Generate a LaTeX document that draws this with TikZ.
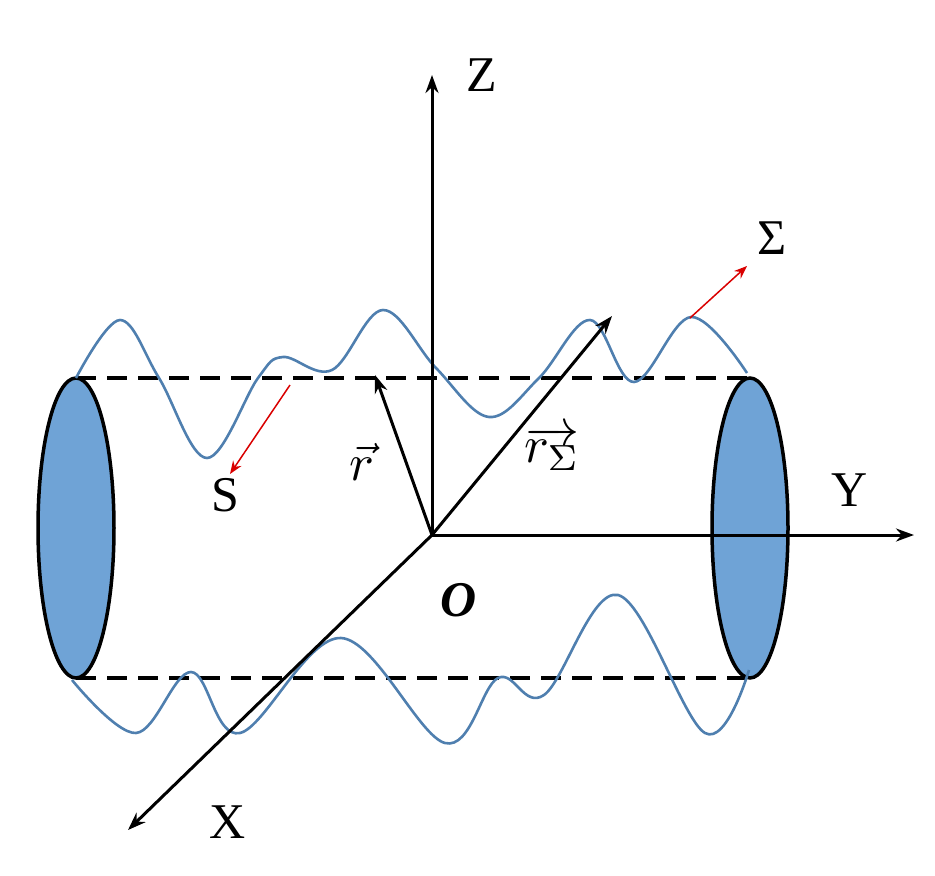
\documentclass[tikz,border=0pt]{standalone}
\usepackage{fontspec}
\usepackage{graphicx}
\setmainfont{Liberation Serif}
\usetikzlibrary{arrows.meta}
\definecolor{wave}{HTML}{4F7FAF}
\definecolor{cap}{HTML}{6FA3D6}
\begin{document}
\begin{tikzpicture}[x=1pt,y=-1pt,
  ax/.style={line width=3pt,-{Stealth[length=18pt,width=13pt]}},
  red/.style={draw=red!85!black,line width=1.5pt,-{Stealth[length=13pt,width=10pt]}},
  wv/.style={draw=wave,line width=2.6pt},
  lab/.style={font=\fontsize{50}{52}\selectfont}]
\useasboundingbox (0,0) rectangle (935,876);
% dashed lines
\draw[line width=3.5pt,dash pattern=on 20pt off 11pt] (76,378) -- (750,378);
\draw[line width=3.5pt,dash pattern=on 20pt off 11pt] (76,678) -- (750,678);
% caps
\draw[fill=cap,line width=3.5pt] (76,528) ellipse [x radius=38,y radius=150];
\draw[fill=cap,line width=3.5pt] (750,528) ellipse [x radius=38,y radius=150];
% waves
\draw[wv] plot[smooth,tension=0.6] coordinates {(76,378) (120,320) (159,378) (207,458) (258,378) (283,357) (332,370) (383,310) (436,368) (489,417) (539,378) (590,320) (634,382) (691,317) (747,373)};
\draw[wv] plot[smooth,tension=0.6] coordinates {(72,680) (136,733) (191,672) (240,733) (341,638) (445,743) (498,678) (544,695) (618,595) (705,733) (749,670)};
% axes
\coordinate (O) at (432,535);
\coordinate (Zt) at (432,75);
\coordinate (Yt) at (914,535);
\coordinate (Xt) at (128,830);
\draw[ax] (O) -- (Zt);
\draw[ax] (O) -- (Yt);
\draw[ax] (O) -- (Xt);
\coordinate (rt) at (375,375);
\coordinate (rst) at (612,316);
\draw[ax] (O) -- (rt);
\draw[ax] (O) -- (rst);
% red arrows
\coordinate (s1) at (290,385); \coordinate (s2) at (230,474);
\draw[red] (s1) -- (s2);
\coordinate (g1) at (690,318); \coordinate (g2) at (747,266);
\draw[red] (g1) -- (g2);
% labels
\node[lab] (lz) at (482,75) {Z};
\node[lab] (ly) at (850,490) {Y};
\node[lab] (lx) at (228,822) {X};
\node[lab] (ls) at (225,495) {S};
\node[lab] (lsig) at (772,238) {\char"03A3};
\node[lab] (lo) at (459,600) {\textbf{\textit{O}}};
\node (lr) at (362,462) {\scalebox{5.2}{$\vec{r}$}};
\node (lrs) at (552,448) {\scalebox{5.2}{$\overrightarrow{r_{\Sigma}}$}};
\end{tikzpicture}
\end{document}
